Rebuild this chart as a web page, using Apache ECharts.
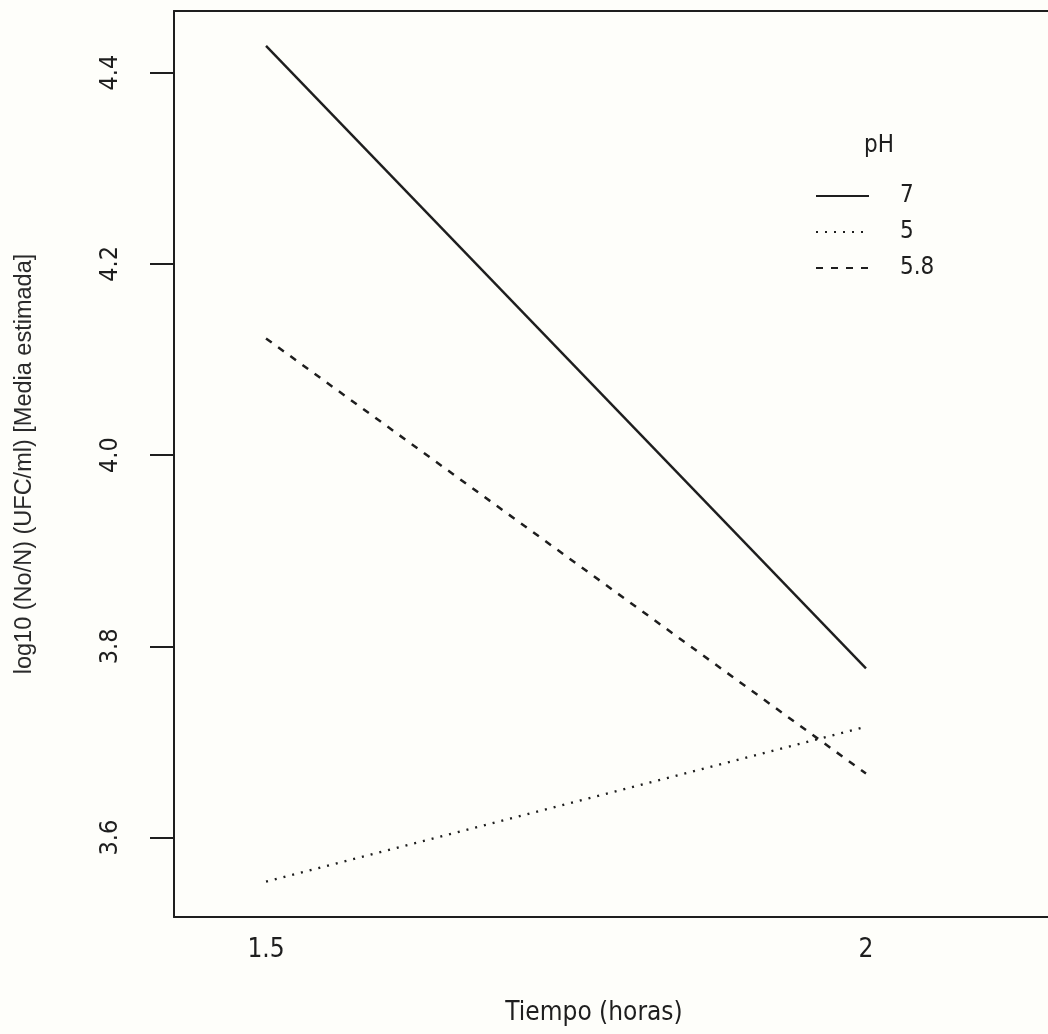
<!DOCTYPE html>
<html>
<head>
<meta charset="utf-8">
<script src="https://cdn.jsdelivr.net/npm/echarts@6/dist/echarts.min.js"></script>
<style>
html,body{margin:0;padding:0;background:#fefefa;}
#c{width:1048px;height:1034px;}
</style>
</head>
<body>
<div id="c"></div>
<script>
const times = [1.5, 2];
const seriesNames = ['7', '5', '5.8'];
const ph7 = [4.428, 3.777];
const ph5 = [3.554, 3.716];
const ph58 = [4.122, 3.667];
const xTicks = [1.5, 2];
const yTicks = [3.6, 3.8, 4.0, 4.2, 4.4];

const FONT = 'Liberation Sans';
const NARROW = '"Liberation Sans Narrow", "DejaVu Sans Condensed", "Liberation Sans"';
const INK = '#1e1e1e';
const chart = echarts.init(document.getElementById('c'));
const mk = (vals) => times.map((t, i) => [t, vals[i]]);
const XMIN = 1.4233, XMAX = 2.1517;
chart.setOption({
  backgroundColor: '#fefefa',
  animation: false,
  grid: {left: 174, top: 11, bottom: 117, right: 0, show: false},
  xAxis: [{
    type: 'value', min: XMIN, max: XMAX, position: 'bottom',
    name: 'Tiempo (horas)', nameLocation: 'middle', nameGap: 83,
    nameTextStyle: {fontFamily: NARROW, fontSize: 26, color: INK, padding: [0, 34, 0, 0]},
    axisLine: {show: true, onZero: false, lineStyle: {color: INK, width: 2}},
    axisTick: {show: false},
    splitLine: {show: false},
    axisLabel: {customValues: xTicks, fontFamily: NARROW, fontSize: 26, color: INK, margin: 20,
      formatter: v => String(v)}
  }, {
    type: 'value', min: XMIN, max: XMAX, position: 'top',
    axisLine: {show: true, onZero: false, lineStyle: {color: INK, width: 2}},
    axisTick: {show: false}, axisLabel: {show: false}, splitLine: {show: false}
  }],
  yAxis: {
    type: 'value', min: 3.517, max: 4.4645,
    name: 'log10 (No/N) (UFC/ml) [Media estimada]', nameLocation: 'middle', nameGap: 137, nameRotate: 90,
    nameTextStyle: {fontFamily: FONT, fontSize: 23.5, color: '#2a2a2a', padding: [0, 0, 0, 0]},
    axisLine: {show: true, onZero: false, lineStyle: {color: INK, width: 2}},
    axisTick: {show: true, customValues: yTicks, length: 24, lineStyle: {color: INK, width: 2}},
    splitLine: {show: false},
    axisLabel: {customValues: yTicks, rotate: 90, fontFamily: NARROW, fontSize: 25, color: INK, margin: 51,
      formatter: v => v.toFixed(1)}
  },
  title: {text: 'pH', left: 859, top: 129, textStyle: {fontFamily: NARROW, fontSize: 24, fontWeight: 'normal', color: INK}},
  legend: {
    orient: 'vertical', left: 810, top: 179, itemGap: 12, itemWidth: 53, itemHeight: 25,
    data: seriesNames,
    itemStyle: {opacity: 0},
    textStyle: {fontFamily: NARROW, fontSize: 24, color: INK, padding: [0, 0, 0, 26]}
  },
  series: [
    {name: '7', type: 'line', data: mk(ph7), symbol: 'none', lineStyle: {color: INK, width: 2.4, type: 'solid'}, itemStyle: {color: INK}},
    {name: '5', type: 'line', data: mk(ph5), symbol: 'none', lineStyle: {color: INK, width: 2.5, type: [2, 7]}, itemStyle: {color: INK}},
    {name: '5.8', type: 'line', data: mk(ph58), symbol: 'none', lineStyle: {color: INK, width: 2.5, type: [7, 8]}, itemStyle: {color: INK}}
  ]
});
</script>
</body>
</html>
